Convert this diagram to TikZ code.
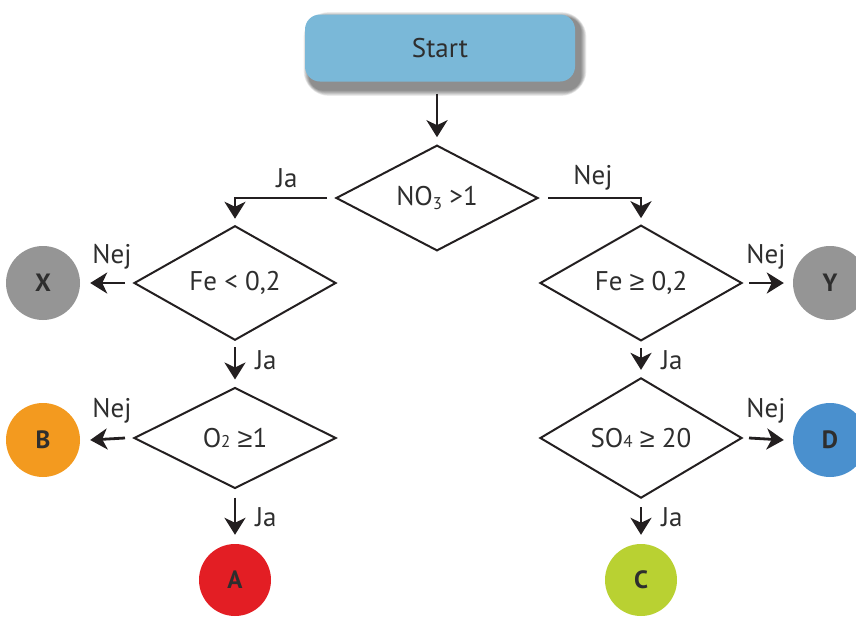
\documentclass[tikz,border=0pt]{standalone}
\usepackage{fontspec}
\setmainfont{PT Sans}
\newfontfamily\symf{Liberation Sans}
\usetikzlibrary{shapes.geometric,arrows.meta,calc,backgrounds}
\definecolor{linec}{HTML}{231F20}
\definecolor{txtc}{HTML}{2E2E2E}
\definecolor{startc}{HTML}{7AB8D8}
\definecolor{greyc}{HTML}{959595}
\definecolor{orangec}{HTML}{F39A1F}
\definecolor{redc}{HTML}{E31E24}
\definecolor{limec}{HTML}{B9D132}
\definecolor{bluec}{HTML}{4A90CE}
\newcommand{\gesym}{{\symf ≥}}
\tikzset{
  decision/.style={diamond, draw=linec, line width=2pt, minimum width=202pt, minimum height=101pt, inner sep=0pt, font=\fontsize{27}{30}\selectfont, text=txtc},
  endc/.style={circle, minimum size=74pt, inner sep=0pt, font=\fontsize{25}{28}\selectfont\bfseries, text=txtc},
  arr/.style={draw=linec, line width=2.8pt, -{Stealth[length=17pt,width=21pt,inset=5pt]}},
  lbl/.style={font=\fontsize{27}{30}\selectfont, text=txtc, inner sep=1pt},
}
\begin{document}
\begin{tikzpicture}[x=1pt,y=-1pt]
\useasboundingbox (0,0) rectangle (856,627);
% start
\node[rectangle, rounded corners=15pt, fill=startc, minimum width=270pt, minimum height=67pt,
  font=\fontsize{27}{30}\selectfont, text=txtc] (start) at (440,48) {Start};
\begin{pgfonlayer}{background}
  \foreach \i in {0,1.5,...,10.5} {
    \fill[black, opacity=0.07, rounded corners=15pt+\i pt]
      ($(start.south west)+(4-\i/2,9+\i/2)$) rectangle ($(start.north east)+(6+\i/2,3-\i/2)$);
  }
\end{pgfonlayer}
% decisions
\node[decision] (d1) at (437,198) {NO\raisebox{-0.35ex}{\fontsize{17}{18}\selectfont 3} >1};
\node[decision] (d2) at (235,283) {Fe < 0,2};
\node[decision] (d3) at (235,438) {O{\fontsize{17}{18}\selectfont 2} \gesym1};
\node[decision] (d4) at (641,283) {Fe \gesym\ 0,2};
\node[decision] (d5) at (641,438) {SO{\fontsize{17}{18}\selectfont 4} \gesym\ 20};
% end circles
\node[endc, fill=greyc] (X) at (43,283) {X};
\node[endc, fill=greyc] (Y) at (830,283) {Y};
\node[endc, fill=orangec] (B) at (43,440) {B};
\node[endc, fill=bluec] (D) at (830,440) {D};
\node[endc, fill=redc, minimum size=72pt] (A) at (235,580) {A};
\node[endc, fill=limec, minimum size=72pt] (C) at (641,580) {C};
% connectors
\draw[arr] ($(start.south -| d1.north)+(0,12)$) -- ($(d1.north)+(0,-7)$);
\draw[arr] ($(d1.west)+(-8,0)$) -| ($(d2.north)+(0,-6)$);
\draw[arr] ($(d1.east)+(9,0)$) -| ($(d4.north)+(0,-6)$);
\node[lbl] at (287,178) {Ja};
\node[lbl] at (593,178) {Nej};
% left column
\draw[arr] ($(d2.west)+(-8,0)$) -- ($(X.east)+(10,0)$);
\node[lbl] at (112,257) {Nej};
\draw[arr] ($(d2.south)+(0,6)$) -- ($(d3.north)+(0,-7)$);
\node[lbl] at (266,360) {Ja};
\draw[arr] ($(d3.west)+(-8,0)$) -- ($(B.east)+(10,0)$);
\node[lbl] at (112,411) {Nej};
\draw[arr] ($(d3.south)+(0,8)$) -- ($(A.north)+(0,-9)$);
\node[lbl] at (266,517) {Ja};
% right column
\draw[arr] ($(d4.east)+(6,0)$) -- ($(Y.west)+(-9,0)$);
\node[lbl] at (766,257) {Nej};
\draw[arr] ($(d4.south)+(0,6)$) -- ($(d5.north)+(0,-7)$);
\node[lbl] at (672,360) {Ja};
\draw[arr] ($(d5.east)+(6,0)$) -- ($(D.west)+(-9,0)$);
\node[lbl] at (766,411) {Nej};
\draw[arr] ($(d5.south)+(0,8)$) -- ($(C.north)+(0,-9)$);
\node[lbl] at (672,517) {Ja};
\end{tikzpicture}
\end{document}
